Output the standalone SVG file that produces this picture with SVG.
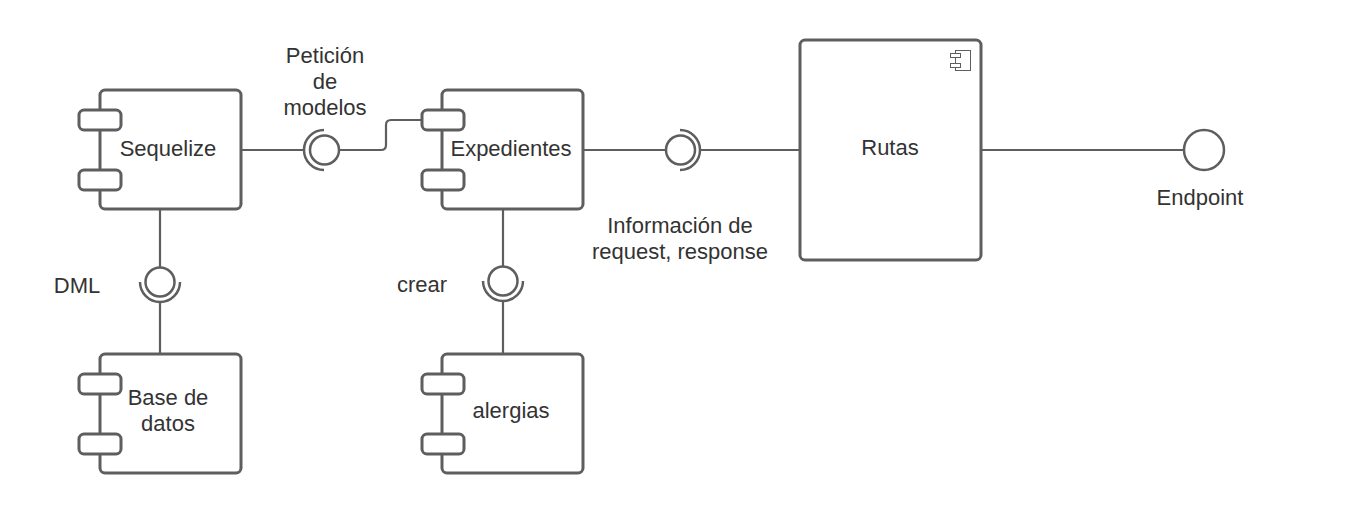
<svg xmlns="http://www.w3.org/2000/svg" width="1360" height="513" viewBox="0 0 1360 513">
<style>
.box{fill:#fff;stroke:#5e5e5e;stroke-width:3}
.tab{fill:#fff;stroke:#5e5e5e;stroke-width:3}
.ln{fill:none;stroke:#5e5e5e;stroke-width:2.2}
.ball{fill:#fff;stroke:#5e5e5e;stroke-width:2.5}
.sock{fill:none;stroke:#5e5e5e;stroke-width:2.5}
.icon{fill:#fff;stroke:#5e5e5e;stroke-width:1}
text{font-family:"Liberation Sans",Arial,sans-serif;font-size:22px;fill:#333;text-anchor:middle}
</style>
<rect width="1360" height="513" fill="#fff"/>
<g id="connectors">
<line class="ln" x1="241" y1="150" x2="304" y2="150"/>
<path class="ln" d="M339,150 H381 Q386,150 386,145 V125 Q386,120 391,120 H422"/>
<line class="ln" x1="583" y1="150" x2="666" y2="150"/>
<line class="ln" x1="700" y1="150" x2="800" y2="150"/>
<line class="ln" x1="981" y1="150" x2="1184" y2="150"/>
<line class="ln" x1="160" y1="209" x2="160" y2="268"/>
<line class="ln" x1="160" y1="302" x2="160" y2="354"/>
<line class="ln" x1="503" y1="209" x2="503" y2="267"/>
<line class="ln" x1="503" y1="301" x2="503" y2="354"/>
</g>
<g id="sequelize">
<rect class="box" x="100" y="90" width="141" height="119" rx="5"/>
<rect class="tab" x="79" y="110" width="42" height="20" rx="5"/>
<rect class="tab" x="79" y="170" width="42" height="20" rx="5"/>
<text x="168" y="156">Sequelize</text>
</g>
<g id="expedientes">
<rect class="box" x="442" y="90" width="141" height="119" rx="5"/>
<rect class="tab" x="422" y="110" width="42" height="20" rx="5"/>
<rect class="tab" x="422" y="170" width="42" height="20" rx="5"/>
<text x="511" y="156">Expedientes</text>
</g>
<g id="rutas">
<rect class="box" x="800" y="40" width="181" height="220" rx="5"/>
<rect class="icon" x="955.5" y="50.5" width="15" height="20"/>
<rect class="icon" x="950.5" y="53.5" width="10" height="4"/>
<rect class="icon" x="950.5" y="63.5" width="10" height="4"/>
<text x="890" y="155">Rutas</text>
</g>
<g id="base-de-datos">
<rect class="box" x="100" y="354" width="141" height="119" rx="5"/>
<rect class="tab" x="79" y="374" width="42" height="20" rx="5"/>
<rect class="tab" x="79" y="434" width="42" height="20" rx="5"/>
<text x="168" y="405">Base de</text>
<text x="168" y="431">datos</text>
</g>
<g id="alergias">
<rect class="box" x="442" y="354" width="141" height="119" rx="5"/>
<rect class="tab" x="422" y="374" width="42" height="20" rx="5"/>
<rect class="tab" x="422" y="434" width="42" height="20" rx="5"/>
<text x="511" y="418">alergias</text>
</g>
<g id="peticion-modelos">
<path class="sock" d="M324,130 A20,20 0 0 0 324,170"/>
<circle class="ball" cx="324.5" cy="150" r="14.5"/>
<text x="325" y="63">Petición</text>
<text x="325" y="89">de</text>
<text x="325" y="115">modelos</text>
</g>
<g id="informacion">
<circle class="ball" cx="680.5" cy="150" r="14.5"/>
<path class="sock" d="M680,130 A20,20 0 0 1 680,170"/>
<text x="680" y="233">Información de</text>
<text x="680" y="259">request, response</text>
</g>
<g id="dml">
<circle class="ball" cx="160" cy="282" r="14.5"/>
<path class="sock" d="M140,282 A20,20 0 0 0 180,282"/>
<text x="77" y="293">DML</text>
</g>
<g id="crear">
<circle class="ball" cx="503" cy="281" r="14.5"/>
<path class="sock" d="M483,281 A20,20 0 0 0 523,281"/>
<text x="422" y="292">crear</text>
</g>
<g id="endpoint">
<circle class="ball" cx="1204" cy="150" r="20"/>
<text x="1200" y="205">Endpoint</text>
</g>
</svg>
